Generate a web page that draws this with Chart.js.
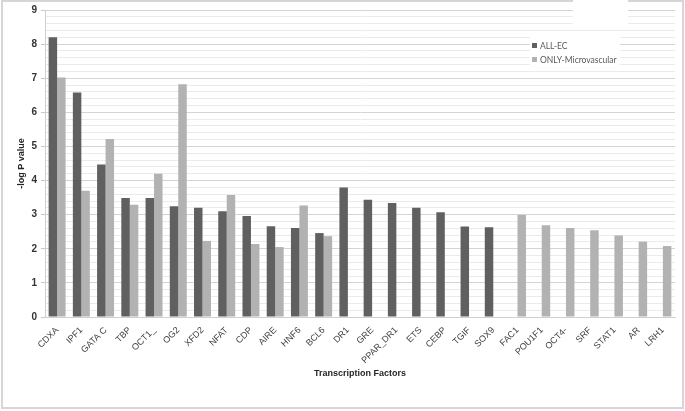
<!DOCTYPE html>
<html>
<head>
<meta charset="utf-8">
<script src="https://cdn.jsdelivr.net/npm/chart.js@4"></script>
<style>
  body { margin: 0; background: #fff; }
  #wrap { width: 685px; height: 411px; position: relative; }
</style>
</head>
<body>
<div id="wrap"><canvas id="tfChart" width="685" height="411"></canvas></div>
<script>
// transcription factors on the x axis
const factors = ['CDXA', 'IPF1', 'GATA C', 'TBP', 'OCT1_', 'OG2', 'XFD2', 'NFAT', 'CDP', 'AIRE', 'HNF6', 'BCL6',
    'DR1', 'GRE', 'PPAR_DR1', 'ETS', 'CEBP', 'TGIF', 'SOX9', 'FAC1', 'POU1F1', 'OCT4-', 'SRF', 'STAT1', 'AR', 'LRH1'];

// -log P values, null = no bar
const allEC = [8.2, 6.58, 4.47, 3.49, 3.49, 3.25, 3.2, 3.1, 2.96, 2.66, 2.61, 2.46,
    3.8, 3.44, 3.34, 3.2, 3.07, 2.65, 2.63, null, null, null, null, null, null, null];
const microvascular = [7.02, 3.7, 5.22, 3.29, 4.2, 6.82, 2.23, 3.58, 2.14, 2.05, 3.27, 2.37,
    null, null, null, null, null, null, null, 2.99, 2.69, 2.61, 2.54, 2.39, 2.21, 2.08];

const yMax = 9;
const yStep = 0.2;

const isMajor = v => Math.abs(v - Math.round(v)) < 1e-6;

// frame, white notch and the legend box
const decorPlugin = {
    id: 'decor',
    afterDraw(chart) {
        const ctx = chart.ctx;
        ctx.save();
        ctx.strokeStyle = '#d6d6d6';
        ctx.lineWidth = 2;
        ctx.strokeRect(2, 1, 681, 407);

        ctx.fillStyle = '#fff';
        ctx.fillRect(573, 0, 55, 28);
        ctx.fillRect(530, 37, 90, 28);

        ctx.font = '8.5px Lato, "Open Sans", sans-serif';
        ctx.textBaseline = 'middle';
        chart.data.datasets.forEach((ds, i) => {
            const y = 46 + i * 14;
            ctx.fillStyle = ds.backgroundColor;
            ctx.fillRect(532, y - 3, 5, 5);
            ctx.fillStyle = '#595959';
            ctx.fillText(ds.label, 540, y);
        });
        ctx.restore();
    }
};

const ctx = document.getElementById('tfChart').getContext('2d');
new Chart(ctx, {
    type: 'bar',
    data: {
        labels: factors,
        datasets: [
            { label: 'ALL-EC', data: allEC, backgroundColor: '#606060' },
            { label: 'ONLY-Microvascular', data: microvascular, backgroundColor: '#b2b2b2' }
        ]
    },
    options: {
        responsive: false,
        animation: false,
        layout: { padding: { left: 16, right: 10, top: 8, bottom: 32 } },
        datasets: { bar: { categoryPercentage: 0.7, barPercentage: 1 } },
        plugins: {
            legend: { display: false },
            tooltip: { enabled: false }
        },
        scales: {
            x: {
                grid: { display: false },
                border: { color: '#d0d0d0' },
                ticks: {
                    autoSkip: false,
                    maxRotation: 45,
                    minRotation: 45,
                    color: '#404040',
                    padding: 0,
                    font: { family: '"Liberation Sans", Arial, sans-serif', size: 9 }
                },
                title: {
                    display: true,
                    text: 'Transcription Factors',
                    color: '#262626',
                    padding: { top: 4, bottom: 0 },
                    font: { family: '"Liberation Sans", Arial, sans-serif', size: 9, weight: 'bold' }
                },
                afterFit(scale) { scale.height = 62; }
            },
            y: {
                min: 0,
                max: yMax,
                border: { color: '#d0d0d0' },
                grid: {
                    color: c => isMajor(c.tick.value) ? '#d4d4d4' : '#ebebeb',
                    tickColor: c => isMajor(c.tick.value) ? '#c8c8c8' : 'rgba(0,0,0,0)',
                    tickLength: 4
                },
                ticks: {
                    stepSize: yStep,
                    autoSkip: false,
                    maxTicksLimit: 100,
                    color: '#333',
                    padding: 4,
                    font: { family: '"Liberation Sans", Arial, sans-serif', size: 10, weight: 'bold' },
                    callback: v => isMajor(v) ? Math.round(v) : ''
                },
                title: {
                    display: true,
                    text: '-log P value',
                    color: '#262626',
                    padding: { top: 0, bottom: 2 },
                    font: { family: '"Liberation Sans", Arial, sans-serif', size: 9, weight: 'bold' }
                },
                afterFit(scale) { scale.width = 29; }
            }
        }
    },
    plugins: [decorPlugin]
});
</script>
</body>
</html>
